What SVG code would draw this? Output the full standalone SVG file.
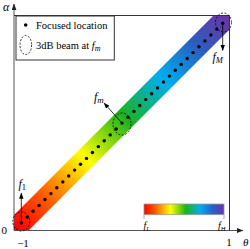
<svg xmlns="http://www.w3.org/2000/svg" width="250" height="249" viewBox="0 0 250 249">
<style>
.ax{stroke:#555;stroke-width:1;fill:none}
.fr{stroke:#333;stroke-width:1;fill:none}
.dot{fill:#000}
.beam{fill:none;stroke:#000;stroke-width:0.8;stroke-dasharray:2 1.5}
.arr{stroke:#000;stroke-width:0.8;fill:none;marker-end:url(#ah)}
.t{font-family:"Liberation Serif","Times New Roman",serif;fill:#000}
.i{font-style:italic}
</style>
<defs>
<marker id="ah" viewBox="0 0 8 6" refX="7.5" refY="3" markerWidth="6" markerHeight="4.5" markerUnits="userSpaceOnUse" orient="auto">
<path d="M0,0 L8,3 L0,6 Z" fill="#000"/>
</marker>
<marker id="axh" viewBox="0 0 8 6" refX="7.5" refY="3" markerWidth="7" markerHeight="5" markerUnits="userSpaceOnUse" orient="auto">
<path d="M0,0 L8,3 L0,6 Z" fill="#222"/>
</marker>
<linearGradient id="bandg" gradientUnits="userSpaceOnUse" x1="16" y1="228" x2="227" y2="18">
<stop offset="0" stop-color="#ff0000"/>
<stop offset="0.14" stop-color="#ff5a00"/>
<stop offset="0.33" stop-color="#ffff00"/>
<stop offset="0.52" stop-color="#1db31d"/>
<stop offset="0.70" stop-color="#00aeef"/>
<stop offset="0.86" stop-color="#2a5fc0"/>
<stop offset="1" stop-color="#6a35a8"/>
</linearGradient>
<linearGradient id="cbg" x1="0" y1="0" x2="1" y2="0">
<stop offset="0" stop-color="#ff0000"/>
<stop offset="0.14" stop-color="#ff5a00"/>
<stop offset="0.33" stop-color="#ffff00"/>
<stop offset="0.52" stop-color="#1db31d"/>
<stop offset="0.70" stop-color="#00aeef"/>
<stop offset="0.86" stop-color="#2a5fc0"/>
<stop offset="1" stop-color="#6a35a8"/>
</linearGradient>
</defs>
<g id="band">
<polygon points="14,215 14,230 29,230 229,30 229,16 213,16" fill="url(#bandg)"/>
</g>
<g id="axes">
<line class="ax" x1="14" y1="230.5" x2="14" y2="4" marker-end="url(#axh)"/>
<line class="ax" x1="14" y1="230.5" x2="243" y2="230.5" marker-end="url(#axh)"/>
<line class="fr" x1="14" y1="15.5" x2="229.5" y2="15.5"/>
<line class="fr" x1="229.5" y1="15.5" x2="229.5" y2="230.5"/>
<text class="t i" x="3" y="11" font-size="12">α</text>
<text class="t" x="1.5" y="234" font-size="11">0</text>
<text class="t" x="23" y="246.5" font-size="11" text-anchor="middle">−1</text>
<text class="t" x="229" y="246" font-size="11" text-anchor="middle">1</text>
<text class="t i" x="243" y="246" font-size="11">θ</text>
</g>
<g id="dots">
<circle class="dot" cx="21.3" cy="223.0" r="1.7"/>
<circle class="dot" cx="27.2" cy="217.1" r="1.7"/>
<circle class="dot" cx="33.1" cy="211.3" r="1.7"/>
<circle class="dot" cx="39.1" cy="205.4" r="1.7"/>
<circle class="dot" cx="45.0" cy="199.5" r="1.7"/>
<circle class="dot" cx="50.9" cy="193.6" r="1.7"/>
<circle class="dot" cx="56.8" cy="187.8" r="1.7"/>
<circle class="dot" cx="62.8" cy="181.9" r="1.7"/>
<circle class="dot" cx="68.7" cy="176.0" r="1.7"/>
<circle class="dot" cx="74.6" cy="170.1" r="1.7"/>
<circle class="dot" cx="80.5" cy="164.3" r="1.7"/>
<circle class="dot" cx="86.5" cy="158.4" r="1.7"/>
<circle class="dot" cx="92.4" cy="152.5" r="1.7"/>
<circle class="dot" cx="98.3" cy="146.6" r="1.7"/>
<circle class="dot" cx="104.2" cy="140.8" r="1.7"/>
<circle class="dot" cx="110.2" cy="134.9" r="1.7"/>
<circle class="dot" cx="116.1" cy="129.0" r="1.7"/>
<circle class="dot" cx="122.0" cy="123.1" r="1.7"/>
<circle class="dot" cx="127.9" cy="117.3" r="1.7"/>
<circle class="dot" cx="133.9" cy="111.4" r="1.7"/>
<circle class="dot" cx="139.8" cy="105.5" r="1.7"/>
<circle class="dot" cx="145.7" cy="99.6" r="1.7"/>
<circle class="dot" cx="151.6" cy="93.8" r="1.7"/>
<circle class="dot" cx="157.5" cy="87.9" r="1.7"/>
<circle class="dot" cx="163.5" cy="82.0" r="1.7"/>
<circle class="dot" cx="169.4" cy="76.1" r="1.7"/>
<circle class="dot" cx="175.3" cy="70.3" r="1.7"/>
<circle class="dot" cx="181.2" cy="64.4" r="1.7"/>
<circle class="dot" cx="187.2" cy="58.5" r="1.7"/>
<circle class="dot" cx="193.1" cy="52.6" r="1.7"/>
<circle class="dot" cx="199.0" cy="46.8" r="1.7"/>
<circle class="dot" cx="204.9" cy="40.9" r="1.7"/>
<circle class="dot" cx="210.9" cy="35.0" r="1.7"/>
<circle class="dot" cx="216.8" cy="29.1" r="1.7"/>
<circle class="dot" cx="222.7" cy="23.2" r="1.7"/>
</g>
<g id="beam-f1">
<ellipse class="beam" cx="21.3" cy="221.5" rx="8.5" ry="9.5"/>
<text class="t i" x="18.5" y="187.5" font-size="12">f<tspan font-size="8.5" font-style="normal" dy="2">1</tspan></text>
</g>
<g id="beam-fm">
<ellipse class="beam" cx="122" cy="124" rx="9" ry="11"/>
<text class="t i" x="94" y="100.5" font-size="12">f<tspan font-size="9" dy="2">m</tspan></text>
</g>
<g id="beam-fM">
<ellipse class="beam" cx="223.5" cy="22.5" rx="8" ry="9.5"/>
<text class="t i" x="212.5" y="60.5" font-size="12">f<tspan font-size="8.5" dy="2">M</tspan></text>
</g>
<g id="connectors">
<line class="arr" x1="21.3" y1="223" x2="21.3" y2="193"/>
<line class="arr" x1="122" y1="123.1" x2="104" y2="103"/>
<line class="arr" x1="222.7" y1="23.2" x2="222.7" y2="50.5"/>
</g>
<g id="legend">
<rect x="16" y="16" width="98.3" height="44" fill="#fff" stroke="#333" stroke-width="1"/>
<circle class="dot" cx="25.7" cy="25" r="1.8"/>
<text class="t" x="36" y="28.5" font-size="10.5">Focused location</text>
<ellipse class="beam" cx="25.8" cy="45" rx="5.8" ry="9.5"/>
<text class="t" x="36" y="49" font-size="10.5">3dB beam at <tspan font-style="italic">f</tspan><tspan font-style="italic" font-size="8" dy="2">m</tspan></text>
</g>
<g id="colorbar">
<rect x="144" y="204" width="80" height="10.7" fill="url(#cbg)" stroke="#999" stroke-width="0.8"/>
<line x1="144" y1="214.7" x2="144" y2="219" stroke="#999" stroke-width="0.8"/>
<line x1="224" y1="214.7" x2="224" y2="219" stroke="#999" stroke-width="0.8"/>
<text class="t i" x="143.5" y="229" font-size="10">f<tspan font-size="6.5" dy="1.5">L</tspan></text>
<text class="t i" x="218" y="229" font-size="10">f<tspan font-size="6.5" dy="1.5">H</tspan></text>
</g>
</svg>
